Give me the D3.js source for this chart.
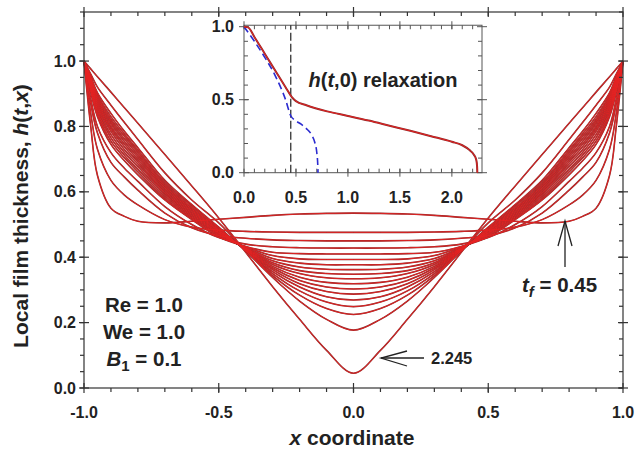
<!DOCTYPE html>
<html>
<head>
<meta charset="utf-8">
<script src="https://cdn.jsdelivr.net/npm/d3@7.9.0/dist/d3.min.js"></script>
<style>
  body { margin: 0; background: #fff; }
  svg text { font-family: "Liberation Sans", Arial, sans-serif; font-weight: bold; fill: #222; }
</style>
</head>
<body>
<svg id="chart" width="635" height="452"></svg>
<script>
// half profiles, x from 0 to 1 (film is symmetric about x = 0)
const xHalf = [0, 0.1, 0.2, 0.3, 0.4, 0.5, 0.6, 0.7, 0.8, 0.85, 0.9, 0.95, 0.975, 1.0];

// profile at the end of forcing, t_f = 0.45
const hForcingEnd = [0.535, 0.534, 0.532, 0.528, 0.522, 0.516, 0.510, 0.505, 0.510, 0.525, 0.55, 0.65, 0.80, 1.0];

// relaxation profiles, earliest first, last one is t = 2.245
const hRelax = [
  [0.476, 0.476, 0.476, 0.477, 0.479, 0.483, 0.492, 0.515, 0.560, 0.590, 0.635, 0.730, 0.840, 1.0],
  [0.450, 0.450, 0.451, 0.453, 0.458, 0.466, 0.490, 0.535, 0.605, 0.645, 0.690, 0.780, 0.870, 1.0],
  [0.428, 0.428, 0.429, 0.432, 0.440, 0.460, 0.500, 0.555, 0.632, 0.672, 0.720, 0.800, 0.885, 1.0],
  [0.410, 0.410, 0.411, 0.415, 0.433, 0.462, 0.515, 0.575, 0.652, 0.695, 0.745, 0.830, 0.905, 1.0],
  [0.393, 0.393, 0.395, 0.405, 0.432, 0.466, 0.519, 0.580, 0.661, 0.704, 0.755, 0.838, 0.910, 1.0],
  [0.377, 0.377, 0.382, 0.396, 0.430, 0.469, 0.523, 0.586, 0.669, 0.712, 0.765, 0.846, 0.915, 1.0],
  [0.362, 0.363, 0.370, 0.389, 0.428, 0.472, 0.527, 0.592, 0.677, 0.720, 0.775, 0.853, 0.920, 1.0],
  [0.348, 0.350, 0.359, 0.383, 0.427, 0.474, 0.531, 0.597, 0.685, 0.729, 0.785, 0.860, 0.925, 1.0],
  [0.334, 0.337, 0.350, 0.378, 0.426, 0.476, 0.535, 0.602, 0.692, 0.738, 0.793, 0.866, 0.930, 1.0],
  [0.319, 0.323, 0.339, 0.372, 0.425, 0.479, 0.539, 0.607, 0.699, 0.746, 0.800, 0.872, 0.934, 1.0],
  [0.303, 0.309, 0.329, 0.367, 0.424, 0.481, 0.543, 0.612, 0.706, 0.754, 0.808, 0.878, 0.938, 1.0],
  [0.287, 0.295, 0.319, 0.362, 0.423, 0.483, 0.547, 0.617, 0.713, 0.762, 0.815, 0.884, 0.942, 1.0],
  [0.269, 0.279, 0.309, 0.356, 0.422, 0.486, 0.551, 0.622, 0.720, 0.770, 0.822, 0.890, 0.946, 1.0],
  [0.249, 0.263, 0.297, 0.350, 0.420, 0.489, 0.556, 0.628, 0.727, 0.777, 0.830, 0.896, 0.950, 1.0],
  [0.225, 0.243, 0.284, 0.344, 0.419, 0.492, 0.561, 0.635, 0.735, 0.785, 0.840, 0.903, 0.952, 1.0],
  [0.177, 0.210, 0.266, 0.338, 0.420, 0.505, 0.575, 0.658, 0.760, 0.812, 0.865, 0.920, 0.960, 1.0],
  [0.045, 0.115, 0.210, 0.310, 0.415, 0.520, 0.618, 0.714, 0.810, 0.857, 0.905, 0.952, 0.976, 1.0]
];

// inset: h(t,0) against time
const tRelax = [0, 0.04, 0.1, 0.2, 0.3, 0.4, 0.45, 0.47, 0.5, 0.6, 0.8, 1.0, 1.2, 1.4, 1.6, 1.8, 2.0, 2.1, 2.17, 2.21, 2.235, 2.243, 2.245];
const hRelaxCenter = [1.0, 0.995, 0.93, 0.815, 0.70, 0.585, 0.528, 0.51, 0.49, 0.462, 0.42, 0.389, 0.357, 0.322, 0.287, 0.25, 0.212, 0.188, 0.155, 0.125, 0.087, 0.04, 0];
const tNoRelax = [0, 0.1, 0.2, 0.3, 0.4, 0.45, 0.5, 0.55, 0.6, 0.65, 0.68, 0.70, 0.71, 0.712];
const hNoRelax = [1.0, 0.90, 0.79, 0.665, 0.50, 0.39, 0.355, 0.332, 0.302, 0.26, 0.21, 0.14, 0.05, 0];
const tForcing = 0.45;

const fmt = d => d.toFixed(1);
const svg = d3.select('#chart');
const x = d3.scaleLinear().domain([-1, 1]).range([84, 623]);
const y = d3.scaleLinear().domain([0, 1.15]).range([388, 12]);

// mirror a half profile onto [-1, 1]
function fullProfile(h) {
  let pts = [];
  for (let i = xHalf.length - 1; i > 0; i--) pts.push([-xHalf[i], h[i]]);
  xHalf.forEach((xv, i) => pts.push([xv, h[i]]));
  return pts;
}

const line = d3.line().x(d => x(d[0])).y(d => y(d[1])).curve(d3.curveCatmullRom.alpha(0.5));
const profiles = [hForcingEnd, ...hRelax];
const curves = svg.append('g').attr('fill', 'none');
profiles.forEach(h => {
  curves.append('path').attr('d', line(fullProfile(h)))
    .attr('stroke', '#8c2c2c').attr('stroke-width', 1.6);
});
profiles.forEach(h => {
  curves.append('path').attr('d', line(fullProfile(h)))
    .attr('stroke', '#e62222').attr('stroke-width', 0.9);
});

// main frame
const frame = svg.append('g').attr('stroke', '#333').attr('stroke-width', 1.2);
frame.append('rect').attr('x', x(-1)).attr('y', y(1.15))
  .attr('width', x(1) - x(-1)).attr('height', y(0) - y(1.15)).attr('fill', 'none');

const xMajor = [-1, -0.5, 0, 0.5, 1];
const xMinor = d3.range(-9, 10).map(d => d / 10);
const yMajor = [0, 0.2, 0.4, 0.6, 0.8, 1.0];
const yMinor = d3.range(0, 24).map(d => d * 0.05);

[y(0), y(1.15)].forEach(yy => {
  xMajor.forEach(v => frame.append('line').attr('x1', x(v)).attr('x2', x(v)).attr('y1', yy - 5).attr('y2', yy + 5));
  xMinor.forEach(v => frame.append('line').attr('x1', x(v)).attr('x2', x(v)).attr('y1', yy).attr('y2', yy + 4));
});
[x(-1), x(1)].forEach(xx => {
  yMajor.forEach(v => frame.append('line').attr('y1', y(v)).attr('y2', y(v)).attr('x1', xx - 5).attr('x2', xx + 5));
  yMinor.forEach(v => frame.append('line').attr('y1', y(v)).attr('y2', y(v)).attr('x1', xx - 4).attr('x2', xx));
});

svg.append('g').selectAll('text').data(xMajor).join('text')
  .attr('x', d => x(d)).attr('y', 418).attr('text-anchor', 'middle')
  .attr('font-size', 16).text(fmt);
svg.append('g').selectAll('text').data(yMajor).join('text')
  .attr('x', 76).attr('y', d => y(d) + 5.5).attr('text-anchor', 'end')
  .attr('font-size', 16).text(fmt);

// axis titles
const xt = svg.append('text').attr('x', 352).attr('y', 445).attr('text-anchor', 'middle').attr('font-size', 21);
xt.append('tspan').attr('font-style', 'italic').text('x');
xt.append('tspan').text(' coordinate');

const yt = svg.append('text').attr('transform', 'translate(28,216) rotate(-90)')
  .attr('text-anchor', 'middle').attr('font-size', 21);
yt.append('tspan').text('Local film thickness, ');
yt.append('tspan').attr('font-style', 'italic').text('h');
yt.append('tspan').text('(');
yt.append('tspan').attr('font-style', 'italic').text('t');
yt.append('tspan').text(',');
yt.append('tspan').attr('font-style', 'italic').text('x');
yt.append('tspan').text(')');

// parameters
const params = svg.append('g').attr('font-size', 20.5);
params.append('text').attr('x', 144).attr('y', 312).attr('text-anchor', 'middle').text('Re = 1.0');
params.append('text').attr('x', 144).attr('y', 339).attr('text-anchor', 'middle').text('We = 1.0');
const b1 = params.append('text').attr('x', 144).attr('y', 366).attr('text-anchor', 'middle');
b1.append('tspan').attr('font-style', 'italic').text('B');
b1.append('tspan').attr('font-size', 15).attr('dy', 5).text('1');
b1.append('tspan').attr('dy', -5).text(' = 0.1');

// annotations
const ann = svg.append('g').attr('stroke', '#222').attr('stroke-width', 1.3).attr('fill', 'none');
ann.append('line').attr('x1', 565).attr('x2', 565).attr('y1', 221).attr('y2', 267);
ann.append('path').attr('d', 'M558,246 L565,221 L572,246');
ann.append('line').attr('x1', 381).attr('x2', 424).attr('y1', 358).attr('y2', 358);
ann.append('path').attr('d', 'M407,351 L381,358 L407,366');

const tf = svg.append('text').attr('x', 522).attr('y', 292).attr('font-size', 20.5);
tf.append('tspan').attr('font-style', 'italic').text('t');
tf.append('tspan').attr('font-size', 15).attr('font-style', 'italic').attr('dy', 5).text('f');
tf.append('tspan').attr('dy', -5).text(' = 0.45');
svg.append('text').attr('x', 431).attr('y', 364).attr('font-size', 16.5).text('2.245');

// inset
const xi = d3.scaleLinear().domain([0, 2.29]).range([244, 482]);
const yi = d3.scaleLinear().domain([0, 1.0]).range([172.7, 26.7]);
const ins = svg.append('g');
ins.append('rect').attr('x', xi(0)).attr('y', yi(1.01)).attr('width', xi(2.29) - xi(0))
  .attr('height', yi(0) - yi(1.01)).attr('fill', '#fff').attr('stroke', '#555').attr('stroke-width', 1);

const ti = ins.append('g').attr('stroke', '#555').attr('stroke-width', 1);
const xiMajor = [0, 0.5, 1.0, 1.5, 2.0];
const xiMinor = d3.range(1, 23).map(d => d / 10);
const yiMajor = [0, 0.5, 1.0];
const yiMinor = d3.range(1, 10).map(d => d / 10);
[[yi(0), -1], [yi(1.01), 1]].forEach(([yy, dir]) => {
  xiMajor.forEach(v => ti.append('line').attr('x1', xi(v)).attr('x2', xi(v)).attr('y1', yy - 4).attr('y2', yy + 4));
  xiMinor.forEach(v => ti.append('line').attr('x1', xi(v)).attr('x2', xi(v)).attr('y1', yy).attr('y2', yy + 4 * dir));
});
[[xi(0), 1], [xi(2.29), -1]].forEach(([xx, dir]) => {
  yiMajor.forEach(v => ti.append('line').attr('y1', yi(v)).attr('y2', yi(v)).attr('x1', xx - 5).attr('x2', xx + 5));
  yiMinor.forEach(v => ti.append('line').attr('y1', yi(v)).attr('y2', yi(v)).attr('x1', xx).attr('x2', xx + 4 * dir));
});

ins.selectAll('.xl').data(xiMajor).join('text').attr('class', 'xl')
  .attr('x', d => xi(d)).attr('y', 203).attr('text-anchor', 'middle').attr('font-size', 16).text(fmt);
ins.selectAll('.yl').data(yiMajor).join('text').attr('class', 'yl')
  .attr('x', 234).attr('y', d => yi(d) + 5.5).attr('text-anchor', 'end').attr('font-size', 16).text(fmt);

ins.append('line').attr('x1', xi(tForcing)).attr('x2', xi(tForcing)).attr('y1', yi(0)).attr('y2', yi(1.01))
  .attr('stroke', '#222').attr('stroke-width', 1.2).attr('stroke-dasharray', '8,3');

const lineI = d3.line().x(d => xi(d[0])).y(d => yi(d[1])).curve(d3.curveMonotoneX);
ins.append('path').attr('d', lineI(d3.zip(tNoRelax, hNoRelax)))
  .attr('fill', 'none').attr('stroke', '#2b2bd0').attr('stroke-width', 1.6).attr('stroke-dasharray', '7,4');
ins.append('path').attr('d', lineI(d3.zip(tRelax, hRelaxCenter)))
  .attr('fill', 'none').attr('stroke', '#8c2c2c').attr('stroke-width', 2);
ins.append('path').attr('d', lineI(d3.zip(tRelax, hRelaxCenter)))
  .attr('fill', 'none').attr('stroke', '#e62222').attr('stroke-width', 1);

const it = ins.append('text').attr('x', 383).attr('y', 87).attr('text-anchor', 'middle').attr('font-size', 20);
it.append('tspan').attr('font-style', 'italic').text('h');
it.append('tspan').text('(');
it.append('tspan').attr('font-style', 'italic').text('t');
it.append('tspan').text(',0) relaxation');
</script>
</body>
</html>
